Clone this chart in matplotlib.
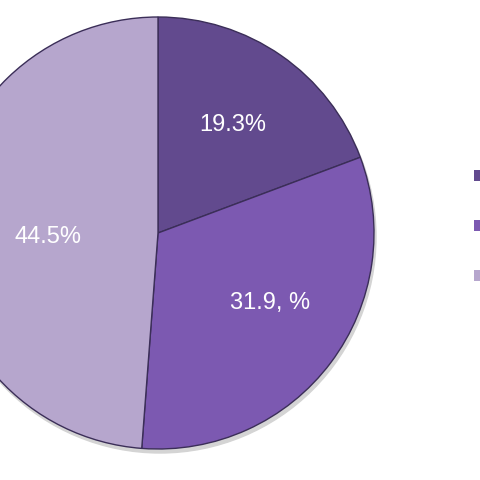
import matplotlib
matplotlib.use('Agg')
import numpy as np
import matplotlib.pyplot as plt
from matplotlib.patches import Circle

# slice sizes as drawn (the printed labels don't sum to 100)
sizes = [19.3, 31.9, 48.8]
label_text = ['19.3%', '31.9, %', '44.5%']
colors = ['#624a8e', '#7c59b1', '#b6a6cd']
label_dist = [0.61, 0.61, 0.51]
label_turn = [0, 5, 4]   # degrees, nudges label off the wedge middle

plt.rcParams['font.family'] = ['Liberation Sans', 'DejaVu Sans']

fig = plt.figure(figsize=(4.8, 4.8), dpi=100)
ax = fig.add_axes([0, 0, 1, 1])

cx, cy, R = 158, 247, 216
# soft drop shadow under the pie
ax.add_patch(Circle((cx + 2, cy - 4), R, color='#d4d4d4', zorder=0))
wedges, _ = ax.pie(sizes, colors=colors, startangle=90, counterclock=False,
                   center=(cx, cy), radius=R, frame=False,
                   wedgeprops=dict(edgecolor='#3b2e58', linewidth=1.0))

for w, txt, d, t in zip(wedges, label_text, label_dist, label_turn):
    mid = np.deg2rad((w.theta1 + w.theta2) / 2 + t)
    ax.text(cx + d * R * np.cos(mid), cy + d * R * np.sin(mid), txt,
            color='white', fontsize=17, ha='center', va='center')

ax.set_xlim(0, 480)
ax.set_ylim(0, 480)
ax.set_aspect('equal')
ax.axis('off')

# legend names lie outside the cropped picture, only the swatches show
leg = fig.legend(wedges, [' '] * len(wedges), loc='center left',
                 bbox_to_anchor=(474 / 480, 1 - 228 / 480),
                 frameon=False, fontsize=14, handlelength=0.45, handleheight=0.5,
                 labelspacing=1.7, borderpad=0, borderaxespad=0,
                 handletextpad=0.5)
for h in leg.legend_handles:
    h.set_edgecolor('none')

plt.savefig('out.png', dpi=100)
